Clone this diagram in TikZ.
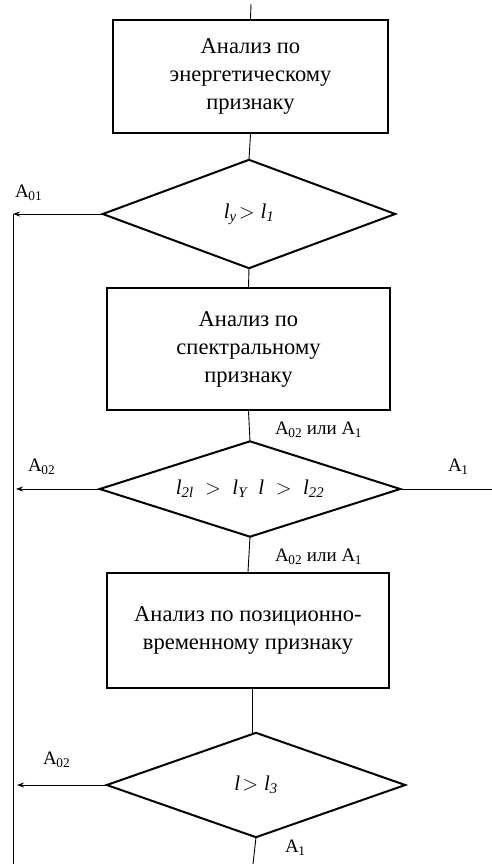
\documentclass[tikz,border=0pt]{standalone}
\usepackage{fontspec}
\setmainfont{Liberation Serif}
\usetikzlibrary{arrows.meta}
\tikzset{
  blockbox/.style={draw, line width=2.2pt, inner sep=0pt, align=center,
    font=\fontsize{22.5}{28}\selectfont},
  decision/.style={rectangle, inner sep=0pt,
    font=\fontsize{21}{24}\selectfont\itshape},
  rhomb/.style={line width=2pt, line join=miter},
  flow/.style={line width=0.9pt},
  outarrow/.style={flow, -{Stealth[length=7pt,width=5pt]}},
  lbl/.style={font=\fontsize{19}{20}\selectfont, inner sep=0pt}
}
\newcommand{\subA}[1]{A\textsubscript{\kern-0.5pt#1}}
\newcommand{\drawrhomb}[1]{\draw[rhomb] (#1.north) -- (#1.east) -- (#1.south) -- (#1.west) -- cycle;}
\begin{document}
\begin{tikzpicture}[x=1pt,y=-1pt]
  \useasboundingbox (0,0) rectangle (492,864);

  % processing blocks
  \node[blockbox, minimum width=275pt, minimum height=113pt] (b1) at (250.5,76.5)
    {Анализ по\\энергетическому\\признаку};
  \node[blockbox, minimum width=283pt, minimum height=122pt] (b2) at (248.5,349)
    {Анализ по\\спектральному\\признаку};
  \node[blockbox, minimum width=282pt, minimum height=115pt] (b3) at (248,630.5)
    {Анализ по позиционно-\\временному признаку};

  % decisions (text nodes, outlined as rhombi through their side midpoints)
  \node[decision, minimum width=292pt, minimum height=108pt] (d1) at (249,214)
    {$\mathit{l_y}\!>\mathit{l_1}$};
  \node[decision, minimum width=300pt, minimum height=95pt] (d2) at (250,489)
    {$\mathit{l_{2l}}\;>\;\mathit{l_Y}\;\;\mathit{l}\;>\;\mathit{l_{22}}$};
  \node[decision, minimum width=298pt, minimum height=104pt] (d3) at (256,785)
    {$\mathit{l}\!>\mathit{l_3}$};
  \drawrhomb{d1}
  \drawrhomb{d2}
  \drawrhomb{d3}

  % free ends
  \coordinate (top) at (251,4);
  \coordinate (c1) at (13,214);
  \coordinate (cbot) at (13,864);
  \coordinate (o2) at (16,489);
  \coordinate (r2) at (492,489);
  \coordinate (o3) at (17,785);
  \coordinate (bot) at (253,864);

  % main flow
  \draw[flow] (top) -- (b1.north);
  \draw[flow] (b1.south) -- (d1.north);
  \draw[flow] (d1.south) -- (b2.north);
  \draw[flow] (b2.south) -- (d2.north);
  \draw[flow] (d2.south) -- (b3.north);
  \draw[flow] (b3.south -| 252.5,0) -- (d3.north -| 252.5,0);
  \draw[flow] (d3.south) -- (bot);

  % rejection branches
  \draw[outarrow] (d1.west) -- (c1);
  \draw[flow] (c1) -- (cbot);
  \draw[outarrow] (d2.west) -- (o2);
  \draw[flow] (d2.east) -- (r2);
  \draw[outarrow] (d3.west) -- (o3);

  % branch labels
  \node[lbl, anchor=west] (l1) at (15,193) {\subA{01}};
  \node[lbl, anchor=west] (l2) at (275,430) {\subA{02} или \subA{1}};
  \node[lbl, anchor=west] (l3) at (28,467) {\subA{02}};
  \node[lbl, anchor=west] (l4) at (448,467) {\subA{1}};
  \node[lbl, anchor=west] (l5) at (275,557) {\subA{02} или \subA{1}};
  \node[lbl, anchor=west] (l6) at (43,760) {\subA{02}};
  \node[lbl, anchor=west] (l7) at (285,848) {\subA{1}};
\end{tikzpicture}
\end{document}
